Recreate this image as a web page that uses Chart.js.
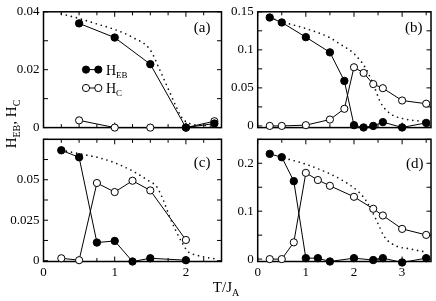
<!DOCTYPE html>
<html><head><meta charset="utf-8">
<script src="https://cdn.jsdelivr.net/npm/chart.js@4"></script>
<style>
html,body{margin:0;padding:0;background:#fff;}
#wrap{position:relative;width:436px;height:301px;overflow:hidden;font-family:"Liberation Serif",serif;color:#000;}
canvas{position:absolute;left:0;top:0;}
.ttl{position:absolute;white-space:nowrap;font-size:15px;line-height:18px;text-align:center;}
.ttl span.s{font-size:10px;position:relative;top:4px;}
#ytitle{left:-19px;top:114.5px;width:60px;height:18px;transform:rotate(-90deg);}
#xtitle{left:196px;top:278px;width:60px;height:18px;}
</style></head>
<body>
<div id="wrap">
<canvas id="ca" width="436" height="301"></canvas>
<canvas id="cb" width="436" height="301"></canvas>
<canvas id="cc" width="436" height="301"></canvas>
<canvas id="cd" width="436" height="301"></canvas>
<div class="ttl" id="ytitle">H<span class="s">EB</span>, H<span class="s">C</span></div>
<div class="ttl" id="xtitle">T/J<span class="s">A</span></div>
</div>
<script>
// ---- Panel (a) ----
const xA = [0.5, 1, 1.5, 2, 2.4];
const hebA = [0.036, 0.0311, 0.0219, 0, 0.0014];
const hcA = [0.0025, 0, 0, 0, 0.0022];
const dotXA = [0.25, 0.5, 0.75, 1.0, 1.25, 1.5, 1.63, 1.75, 1.87, 1.94, 2.05, 2.24, 2.45];
const dotYA = [0.0393, 0.0377, 0.0358, 0.0339, 0.0312, 0.0268, 0.0201, 0.0135, 0.0069, 0.0036, 0.0014, 0.0008, 0.0003];
const yTicksA = [0, 0.02, 0.04];
const yLabelsA = ['0', '0.02', '0.04'];

// ---- Panel (b) ----
const xB = [0.25, 0.5, 1, 1.5, 1.8, 2, 2.2, 2.4, 2.6, 3, 3.5];
const hebB = [0.1425, 0.136, 0.1167, 0.0967, 0.0592, 0.001, -0.002, 0, 0.005, -0.002, 0.004];
const hcB = [0, 0, 0.001, 0.0084, 0.0225, 0.0771, 0.0696, 0.055, 0.0496, 0.0334, 0.0292];
const dotXB = [0.25, 0.5, 1.0, 1.5, 1.7, 2.0, 2.25, 2.43, 2.56, 2.77, 3.04, 3.38, 3.55];
const dotYB = [0.1425, 0.137, 0.128, 0.116, 0.108, 0.095, 0.075, 0.05, 0.03, 0.0155, 0.0093, 0.0063, 0.005];
const yTicksB = [0, 0.05, 0.1, 0.15];
const yLabelsB = ['0', '0.05', '0.1', '0.15'];

// ---- Panel (c) ----
const xC = [0.25, 0.5, 0.75, 1, 1.25, 1.5, 2];
const hebC = [0.0682, 0.0639, 0.0112, 0.0122, -0.0005, 0.0015, 0.0003];
const hcC = [0.0015, 0.0003, 0.048, 0.0424, 0.0494, 0.0434, 0.0128];
const dotXC = [0.25, 0.56, 0.79, 1.03, 1.26, 1.49, 1.585, 1.68, 1.77, 1.865, 1.95, 2.03, 2.145, 2.29, 2.45];
const dotYC = [0.0683, 0.0656, 0.0635, 0.06, 0.0552, 0.049, 0.046, 0.0377, 0.0273, 0.018, 0.0108, 0.0056, 0.0035, 0.002, 0.001];
const yTicksC = [0, 0.025, 0.05];
const yLabelsC = ['0', '0.025', '0.05'];
const xTicksC = [0, 1, 2];
const xLabelsC = ['0', '1', '2'];

// ---- Panel (d) ----
const xD = [0.25, 0.5, 0.75, 1, 1.25, 1.5, 2, 2.4, 2.6, 3, 3.5];
const hebD = [0.2196, 0.2126, 0.1627, 0.002, 0.002, -0.005, 0.002, -0.002, 0.002, -0.007, 0.002];
const hcD = [0, 0, 0.035, 0.18, 0.165, 0.153, 0.13, 0.105, 0.091, 0.063, 0.0505];
const dotXD = [0.55, 1.0, 1.5, 1.75, 2.09, 2.25, 2.36, 2.5, 2.63, 2.84, 3.18, 3.5];
const dotYD = [0.211, 0.198, 0.178, 0.165, 0.141, 0.122, 0.103, 0.074, 0.047, 0.029, 0.021, 0.0145];
const yTicksD = [0, 0.1, 0.2];
const yLabelsD = ['0', '0.1', '0.2'];
const xTicksD = [0, 1, 2, 3];
const xLabelsD = ['0', '1', '2', '3'];

const FONT = '"Liberation Serif", serif';
const YW = 40, XH = 22;
const pts = (xs, ys) => xs.map((x, i) => ({x, y: ys[i]}));

const framePlugin = {
  id: 'frame',
  beforeDatasetsDraw(chart, args, o) {
    const {ctx, chartArea: a, scales: {x, y}} = chart;
    ctx.save();
    ctx.strokeStyle = '#000';
    ctx.lineWidth = 1;
    const eps = 1e-9;
    for (let v = 0; v <= o.xMax + eps; v += o.xStep) {
      const px = x.getPixelForValue(v);
      const major = Math.abs(v - Math.round(v)) < 1e-6;
      const L = major ? 5 : 3.5;
      ctx.beginPath();
      ctx.moveTo(px, a.bottom); ctx.lineTo(px, a.bottom - L);
      ctx.moveTo(px, a.top); ctx.lineTo(px, a.top + L);
      ctx.stroke();
    }
    for (let v = 0; v <= o.yMax + eps; v += o.yStep) {
      const py = y.getPixelForValue(v);
      const L = 4.5;
      ctx.beginPath();
      ctx.moveTo(a.left, py); ctx.lineTo(a.left + L, py);
      ctx.moveTo(a.right, py); ctx.lineTo(a.right - L, py);
      ctx.stroke();
    }
    ctx.lineWidth = 1.5;
    ctx.strokeRect(a.left, a.top, a.right - a.left, a.bottom - a.top);
    // panel label
    ctx.fillStyle = '#000';
    ctx.font = '15px ' + FONT;
    ctx.textAlign = 'right';
    ctx.textBaseline = 'middle';
    ctx.fillText(o.label, a.right - o.labDx, a.top + o.labDy);
    // legend (panel a only)
    if (o.legend) {
      const rows = [{y: a.top + 57.8, sub: 'EB', fill: '#000'}, {y: a.top + 76.2, sub: 'C', fill: '#fff'}];
      const x0 = a.left + 42.5, x1 = a.left + 54.8, tx = a.left + 62.5;
      rows.forEach(r => {
        ctx.lineWidth = 1;
        ctx.beginPath(); ctx.moveTo(x0, r.y); ctx.lineTo(x1, r.y); ctx.stroke();
        [x0, x1].forEach(cx => {
          ctx.beginPath(); ctx.arc(cx, r.y, 3.6, 0, Math.PI * 2);
          ctx.fillStyle = r.fill; ctx.fill(); ctx.stroke();
        });
        ctx.fillStyle = '#000';
        ctx.textAlign = 'left'; ctx.textBaseline = 'alphabetic';
        ctx.font = '14px ' + FONT;
        ctx.fillText('H', tx, r.y + 5);
        const w = ctx.measureText('H').width;
        ctx.font = '9px ' + FONT;
        ctx.fillText(r.sub, tx + w, r.y + 8);
      });
    }
    ctx.restore();
  }
};

function panel(id, o) {
  const datasets = [
    {data: pts(o.x, o.heb), showLine: true, borderColor: '#000', borderWidth: 1,
     pointRadius: 3.7, pointBackgroundColor: '#000', pointBorderColor: '#000', pointBorderWidth: 1, clip: false},
    {data: pts(o.x, o.hc), showLine: true, borderColor: '#000', borderWidth: 1,
     pointRadius: 3.6, pointBackgroundColor: '#fff', pointBorderColor: '#000', pointBorderWidth: 1, clip: false},
    {data: pts(o.dx, o.dy), showLine: true, borderColor: '#111', borderWidth: 1.7, borderDash: [0, 5.2],
     borderCapStyle: 'round', pointRadius: 0, cubicInterpolationMode: 'monotone', clip: false}
  ];
  const xh = o.xt ? XH : 0;
  const pad = {left: o.area.left - YW, top: o.area.top, right: 436 - o.area.right, bottom: 301 - o.area.bottom - xh};
  new Chart(document.getElementById(id), {
    type: 'scatter',
    data: {datasets},
    options: {
      responsive: false, animation: false,
      layout: {padding: pad},
      plugins: {legend: {display: false}, tooltip: {enabled: false},
        frame: {xMax: o.xMax, xStep: o.xStep, yMax: o.yMax, yStep: o.yStep,
                label: o.label, labDx: o.labDx, labDy: o.labDy, legend: !!o.legend}},
      scales: {
        x: {type: 'linear', min: 0, max: o.xMax,
            grid: {display: false, drawTicks: false}, border: {display: false},
            afterFit: s => { s.height = xh; },
            afterBuildTicks: s => { s.ticks = (o.xt || []).map(v => ({value: v})); },
            ticks: {display: !!o.xt, padding: 3, maxRotation: 0, autoSkip: false, color: '#000',
                    font: {family: FONT, size: 13},
                    callback: v => o.xt ? o.xl[o.xt.indexOf(v)] : ''}},
        y: {type: 'linear', min: o.yMin, max: o.yMax,
            grid: {display: false, drawTicks: false}, border: {display: false},
            afterFit: s => { s.width = YW; },
            afterBuildTicks: s => { s.ticks = o.yt.map(v => ({value: v})); },
            ticks: {padding: 4, autoSkip: false, color: '#000',
                    font: {family: FONT, size: 13},
                    callback: v => o.yl[o.yt.indexOf(v)]}}
      }
    },
    plugins: [framePlugin]
  });
}

panel('ca', {x: xA, heb: hebA, hc: hcA, dx: dotXA, dy: dotYA, yt: yTicksA, yl: yLabelsA,
  yMin: 0, yMax: 0.04, yStep: 0.01, xMax: 2.5, xStep: 0.25, label: '(a)', labDx: 11, labDy: 16, legend: true,
  area: {left: 43.5, top: 5.5, right: 221.5, bottom: 127.6}});
panel('cb', {x: xB, heb: hebB, hc: hcB, dx: dotXB, dy: dotYB, yt: yTicksB, yl: yLabelsB,
  yMin: -0.0022, yMax: 0.15, yStep: 0.025, xMax: 3.6, xStep: 0.5, label: '(b)', labDx: 8.5, labDy: 16,
  area: {left: 257.7, top: 5.5, right: 434.2, bottom: 127.6}});
panel('cc', {x: xC, heb: hebC, hc: hcC, dx: dotXC, dy: dotYC, yt: yTicksC, yl: yLabelsC, xt: xTicksC, xl: xLabelsC,
  yMin: -0.0005, yMax: 0.075, yStep: 0.0125, xMax: 2.5, xStep: 0.25, label: '(c)', labDx: 11, labDy: 23.5,
  area: {left: 43.5, top: 139.3, right: 221.5, bottom: 261.5}});
panel('cd', {x: xD, heb: hebD, hc: hcD, dx: dotXD, dy: dotYD, yt: yTicksD, yl: yLabelsD, xt: xTicksD, xl: xLabelsD,
  yMin: -0.005, yMax: 0.25, yStep: 0.05, xMax: 3.6, xStep: 0.5, label: '(d)', labDx: 7.5, labDy: 24.5,
  area: {left: 257.7, top: 139.3, right: 434.2, bottom: 261.5}});
</script>
</body></html>
